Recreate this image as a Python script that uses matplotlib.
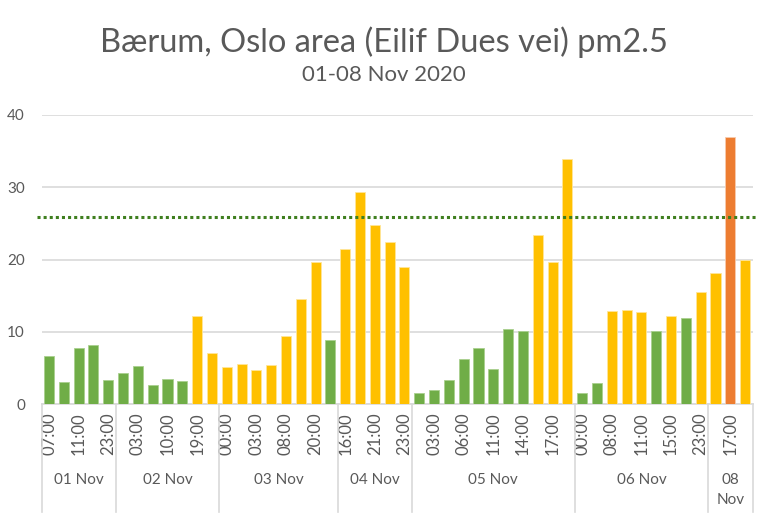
import matplotlib
matplotlib.use("Agg")
import matplotlib.pyplot as plt
import matplotlib.transforms as mtransforms

# ---- data ----
values = [6.7, 3.1, 7.8, 8.1, 3.3,
          4.3, 5.3, 2.6, 3.4, 3.2, 12.2, 7.1,
          5.1, 5.5, 4.7, 5.4, 9.4, 14.5, 19.6, 8.9,
          21.5, 29.3, 24.8, 22.4, 18.9,
          1.5, 1.9, 3.3, 6.2, 7.8, 4.9, 10.4, 10.1, 23.4, 19.6, 33.9,
          1.5, 2.9, 12.9, 13.0, 12.7, 10.1, 12.2, 11.9, 15.5,
          18.2, 36.9, 19.9]
levels = list("ggggg" + "gggggyy" + "yyyyyyyg" + "yyyyy" + "ggggggggyyy" + "ggyyygygy" + "yoy")
hour_labels = ["07:00", "", "11:00", "", "23:00",
               "", "03:00", "", "10:00", "", "19:00", "",
               "00:00", "", "03:00", "", "08:00", "", "20:00", "",
               "16:00", "", "21:00", "", "23:00",
               "", "03:00", "", "06:00", "", "11:00", "", "14:00", "", "17:00", "",
               "00:00", "", "08:00", "", "11:00", "", "15:00", "", "23:00",
               "", "17:00", ""]
day_labels = ["01 Nov", "02 Nov", "03 Nov", "04 Nov", "05 Nov", "06 Nov", "08\nNov"]
day_sizes = [5, 7, 8, 5, 11, 9, 3]
threshold = 25.9

palette = {"g": "#70AD47", "y": "#FFC000", "o": "#ED7D31"}
edge = {"g": "#A9D08E", "y": "#FFE699", "o": "#F8CBAD"}
text_col = "#595959"
grid_col = "#D9D9D9"

plt.rcParams["font.family"] = ["Lato", "DejaVu Sans"]

fig = plt.figure(figsize=(7.68, 5.17), dpi=100)
ax = fig.add_axes([41.6 / 768, 1 - 404 / 517, (752.5 - 41.6) / 768, (404 - 115) / 517])

x = list(range(len(values)))
ax.bar(x, values, width=0.68,
       color=[palette[l] for l in levels],
       edgecolor=[edge[l] for l in levels], linewidth=0.6, zorder=3)

ax.set_xlim(-0.5, len(values) - 0.5)
ax.set_ylim(0, 40)
ax.set_yticks([0, 10, 20, 30, 40])
ax.yaxis.grid(True, color=grid_col, linewidth=1.2, zorder=0)
ax.tick_params(axis="y", length=0, pad=12, labelcolor=text_col, labelsize=11)
for s in ["left", "right", "top"]:
    ax.spines[s].set_visible(False)
ax.spines["bottom"].set_color(grid_col)
ax.spines["bottom"].set_linewidth(1.2)

ax.set_xticks(x)
ax.set_xticklabels(hour_labels, rotation=90, color=text_col, fontsize=12,
                   ha="right", va="center", rotation_mode="anchor")
ax.tick_params(axis="x", length=0, pad=6)

# threshold line (extends a bit beyond plot area)
ax.plot([-0.8, len(values) - 0.1], [threshold, threshold], linestyle=(0, (1, 1)),
        color="#3F7F1F", linewidth=2.2, clip_on=False, zorder=4)

# group separators and day labels
trans = mtransforms.blended_transform_factory(ax.transData, fig.transFigure)
bottom_fig = 1 - 512 / 517
axis_fig = 1 - 404 / 517
start = -0.5
bounds = [start]
for n in day_sizes:
    start += n
    bounds.append(start)
for b in bounds:
    ax.plot([b, b], [axis_fig, bottom_fig], color=grid_col, linewidth=1.2,
            transform=trans, clip_on=False)
for i, lab in enumerate(day_labels):
    c = (bounds[i] + bounds[i + 1]) / 2
    if "\n" in lab:
        ax.text(c, 1 - 490 / 517, lab, transform=trans, ha="center", va="center",
                color=text_col, fontsize=11, linespacing=1.6)
    else:
        ax.text(c, 1 - 480 / 517, lab, transform=trans, ha="center", va="center",
                color=text_col, fontsize=11)

fig.text(384 / 768, 1 - 42 / 517, "Bærum, Oslo area (Eilif Dues vei) pm2.5",
         ha="center", va="center", color=text_col, fontsize=23.5)
fig.text(384 / 768, 1 - 75 / 517, "01-08 Nov 2020",
         ha="center", va="center", color=text_col, fontsize=16)

fig.savefig("out.png", dpi=100)
